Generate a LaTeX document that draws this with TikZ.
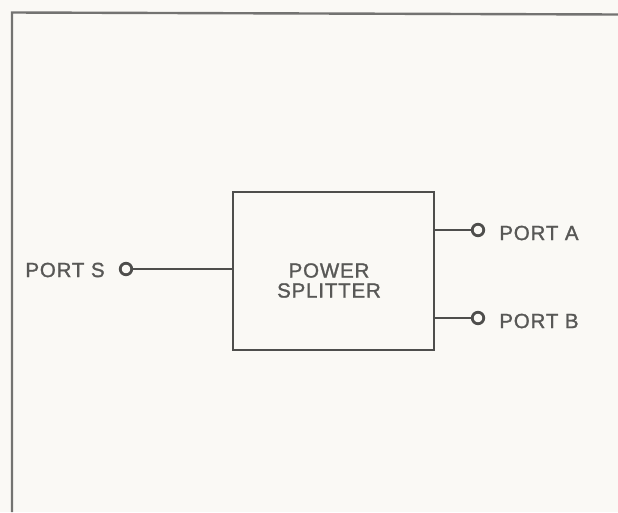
\documentclass[tikz,border=0pt]{standalone}
\usepackage{fontspec}
\setmainfont{Liberation Sans}[LetterSpace=4,FakeBold=1.3]
\definecolor{bgc}{RGB}{250,249,245}
\definecolor{inkc}{RGB}{78,78,76}
\definecolor{framec}{RGB}{115,115,113}
\definecolor{txtc}{RGB}{88,88,86}
\begin{document}
\begin{tikzpicture}[x=1pt,y=-1pt,
  ink/.style={draw=inkc, line width=2.8pt},
  framestyle/.style={draw=framec, line width=2.4pt},
  txt/.style={text=txtc, font=\fontsize{20.5}{20}\selectfont, inner sep=0pt},
  port/.style={ink, circle, fill=bgc, inner sep=0pt, minimum size=11.5pt},
  splitbox/.style={ink, minimum width=201pt, minimum height=158pt, inner sep=0pt}]
\fill[bgc] (0,0) rectangle (618,512);
\useasboundingbox (0,0) rectangle (618,512);
\draw[framestyle] (618,14.5) -- (12,12.5) -- (12,512);
\node[splitbox] (sp) at (333.5,271) {};
\node[txt, align=center] (lbl) at (329,280.5) {POWER\\SPLITTER};
\node[port] (s) at (126,269) {};
\node[port] (a) at (478,230) {};
\node[port] (b) at (478,318) {};
\draw[ink] (s) -- (s -| sp.west);
\draw[ink] (sp.east |- a) -- (a);
\draw[ink] (sp.east |- b) -- (b);
\node[txt, anchor=east] (sl) at ([xshift=-14pt,yshift=-1pt]s.west) {PORT S};
\node[txt, anchor=west] (al) at ([xshift=14pt,yshift=-3pt]a.east) {PORT A};
\node[txt, anchor=west] (bl) at ([xshift=14pt,yshift=-3pt]b.east) {PORT B};
\end{tikzpicture}
\end{document}
